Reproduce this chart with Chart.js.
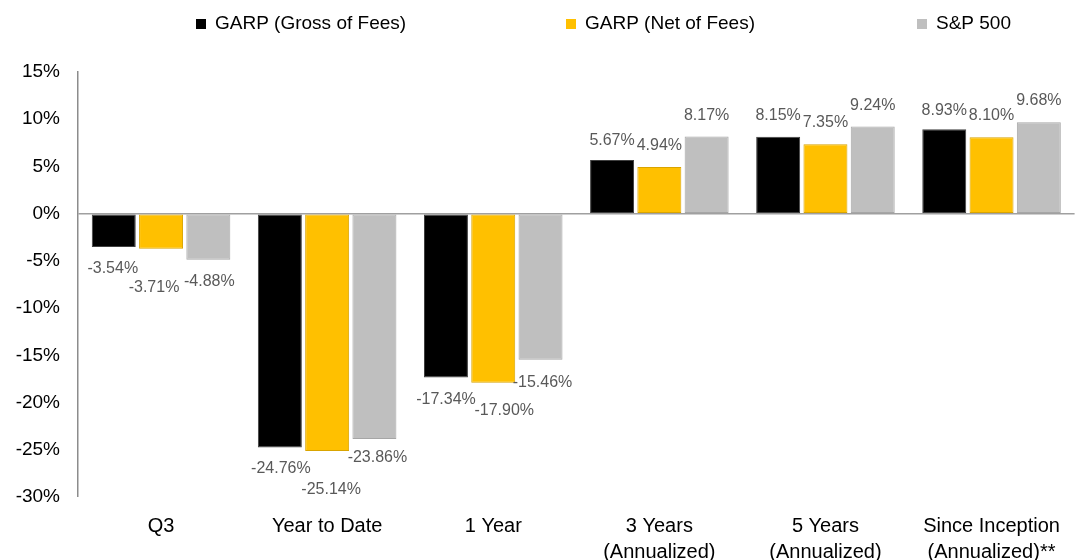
<!DOCTYPE html>
<html>
<head>
<meta charset="utf-8">
<script src="https://cdn.jsdelivr.net/npm/chart.js@4/dist/chart.umd.min.js"></script>
<style>
  html, body { margin: 0; padding: 0; background: #ffffff; }
  #wrap { width: 1076px; height: 560px; }
</style>
</head>
<body>
<div id="wrap"><canvas id="perfChart" width="1076" height="560"></canvas></div>
<script>
const categories = [
  'Q3',
  'Year to Date',
  '1 Year',
  ['3 Years', '(Annualized)'],
  ['5 Years', '(Annualized)'],
  ['Since Inception', '(Annualized)**']
]
const seriesNames = ['GARP (Gross of Fees)', 'GARP (Net of Fees)', 'S&P 500']
const garpGross = [-3.54, -24.76, -17.34, 5.67, 8.15, 8.93]
const garpNet = [-3.71, -25.14, -17.90, 4.94, 7.35, 8.10]
const sp500 = [-4.88, -23.86, -15.46, 8.17, 9.24, 9.68]
const yTicks = { min: -30, max: 15, step: 5 }

const FONT = '"Liberation Sans", Arial, sans-serif'
const fills = ['#000000', '#ffc000', '#bfbfbf']
const borders = ['#404040', '#d9a400', '#a6a6a6']

// nudges for the data labels so they don't collide (dx, dy in px)
const labelNudge = [
  [[-1, 0], [1, 0], [0, 1], [0, 1], [0, 0], [0, 2]],
  [[-7, 18], [4, 17], [11, 7], [0, 0], [0, -1], [0, -1]],
  [[1, 1], [3, -2], [2, 2], [0, 0], [0, 0], [0, -1]]
]

const dataLabels = {
  id: 'dataLabels',
  afterDatasetsDraw(chart) {
    const ctx = chart.ctx
    ctx.save()
    ctx.font = '16px ' + FONT
    ctx.fillStyle = '#595959'
    ctx.textAlign = 'center'
    ctx.textBaseline = 'middle'
    chart.data.datasets.forEach((ds, i) => {
      chart.getDatasetMeta(i).data.forEach((bar, j) => {
        const v = ds.data[j]
        const n = labelNudge[i][j]
        const y = bar.y + (v < 0 ? 21 : -21) + n[1]
        ctx.fillText(v.toFixed(2) + '%', bar.x + n[0], y)
      })
    })
    ctx.restore()
  }
}

// legend drawn by hand so the items sit where the original has them
const legendX = [196, 566, 917]
const topLegend = {
  id: 'topLegend',
  afterDraw(chart) {
    const ctx = chart.ctx
    ctx.save()
    ctx.font = '19px ' + FONT
    ctx.textBaseline = 'middle'
    ctx.textAlign = 'left'
    chart.data.datasets.forEach((ds, i) => {
      const x = legendX[i]
      ctx.fillStyle = fills[i]
      ctx.fillRect(x, 19, 10, 10)
      ctx.fillStyle = '#000000'
      ctx.fillText(ds.label, x + 19, 24)
    })
    ctx.restore()
  }
}

window.addEventListener('load', function () {
  const ctx = document.getElementById('perfChart').getContext('2d')
  window.perfChart = new Chart(ctx, {
    type: 'bar',
    data: {
      labels: categories,
      datasets: [garpGross, garpNet, sp500].map((vals, i) => ({
        label: seriesNames[i],
        data: vals,
        backgroundColor: fills[i],
        borderColor: borders[i],
        borderWidth: 1,
        borderSkipped: false,
        categoryPercentage: 0.854,
        barPercentage: 0.93
      }))
    },
    options: {
      responsive: false,
      devicePixelRatio: 1,
      animation: false,
      layout: { padding: { top: 72, right: 1, left: 0, bottom: 0 } },
      plugins: {
        legend: { display: false },
        tooltip: { enabled: false }
      },
      scales: {
        x: {
          grid: { display: false, drawTicks: false },
          border: { display: false },
          ticks: {
            color: '#000000',
            padding: 16,
            maxRotation: 0,
            autoSkip: false,
            font: { family: FONT, size: 20, lineHeight: 1.3 }
          },
          afterFit(scale) { scale.height = 63 }
        },
        y: {
          min: yTicks.min,
          max: yTicks.max,
          grid: {
            drawTicks: false,
            color: (c) => (c.tick && c.tick.value === 0 ? '#a0a0a0' : 'rgba(0,0,0,0)'),
            lineWidth: (c) => (c.tick && c.tick.value === 0 ? 1.5 : 0)
          },
          border: { display: true, color: '#8c8c8c', width: 1.5 },
          ticks: {
            stepSize: yTicks.step,
            color: '#000000',
            padding: 18,
            font: { family: FONT, size: 19 },
            callback: (v) => v + '%'
          },
          afterFit(scale) { scale.width = 78 }
        }
      }
    },
    plugins: [dataLabels, topLegend]
  })
})
</script>
</body>
</html>
